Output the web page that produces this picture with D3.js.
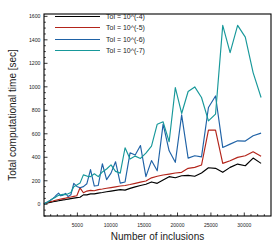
<!DOCTYPE html>
<html>
<head>
<meta charset="utf-8">
<script src="https://cdn.jsdelivr.net/npm/d3@7"></script>
<style>
  html, body { margin: 0; padding: 0; background: #fff; }
  svg { display: block; font-family: "Liberation Sans", Arial, sans-serif; }
</style>
</head>
<body>
<div id="chart"></div>
<script>
// number of inclusions (x)
const inclusions = [11, 45, 100, 178, 279, 401, 546, 714, 903, 1115,
  1349, 1606, 1884, 2185, 2509, 2854, 3222, 3613, 4025, 4460,
  4917, 5397, 5898, 6422, 6969, 7537, 8128, 8742, 9377, 10035,
  10715, 11418, 12142, 12889, 13659, 14450, 15264, 16101, 16959, 17840,
  18743, 19669, 20617, 21586, 22579, 23593, 24630, 25690, 26771, 27875,
  29001, 30150, 31321, 32514];

// total computational time [sec] per tolerance
const tol4 = [2, 3, 5, 6, 8, 10, 12, 14, 16, 18,
  21, 24, 27, 30, 33, 37, 40, 44, 48, 52,
  56, 60, 80, 80, 88, 88, 95, 100, 106, 112,
  118, 124, 120, 135, 148, 160, 170, 190, 178, 206,
  235, 226, 243, 246, 238, 266, 311, 306, 272, 314,
  342, 328, 393, 348];
const tol5 = [2, 4, 6, 8, 10, 13, 16, 19, 22, 25,
  28, 32, 36, 40, 44, 48, 52, 57, 62, 67,
  72, 140, 98, 112, 118, 115, 125, 130, 136, 142,
  148, 155, 160, 168, 178, 188, 198, 225, 238, 249,
  257, 266, 272, 306, 314, 334, 631, 631, 348, 370,
  399, 413, 447, 408];
const tol6 = [2, 4, 6, 9, 12, 16, 20, 25, 32, 40,
  50, 62, 80, 95, 72, 78, 92, 66, 80, 178,
  152, 140, 150, 175, 295, 155, 160, 345, 210, 265,
  362, 180, 190, 438, 420, 500, 235, 372, 285, 682,
  455, 357, 761, 393, 413, 404, 824, 922, 484, 512,
  540, 538, 583, 606];
const tol7 = [2, 4, 6, 9, 12, 16, 20, 26, 32, 40,
  48, 56, 66, 76, 80, 84, 82, 90, 100, 150,
  165, 180, 250, 240, 235, 260, 235, 275, 300, 335,
  280, 265, 481, 385, 410, 390, 435, 495, 682, 702,
  532, 993, 773, 960, 999, 909, 710, 767, 1523, 1291,
  1523, 1423, 1121, 909];

const seriesNames = ['Tol = 10^(-4)', 'Tol = 10^(-5)', 'Tol = 10^(-6)', 'Tol = 10^(-7)'];
const seriesValues = [tol4, tol5, tol6, tol7];
const colors = ['#000000', '#b3241a', '#1f62a6', '#17989a'];

const xTicks = [5000, 10000, 15000, 20000, 25000, 30000];
const yTicks = [0, 200, 400, 600, 800, 1000, 1200, 1400, 1600];

const w = 278, h = 250;
const margin = { top: 14, right: 7, bottom: 34, left: 44 };

const svg = d3.select('#chart').append('svg')
  .attr('width', w)
  .attr('height', h);

const x = d3.scaleLinear()
  .domain([0, 34000])
  .range([margin.left, w - margin.right]);

const y = d3.scaleLinear()
  .domain([-100, 1620])
  .range([h - margin.bottom, margin.top]);

// minor ticks (inward)
const xMinor = d3.range(1000, 34000, 1000).filter(v => v % 5000 !== 0);
const yMinor = d3.range(-100, 1620, 50).filter(v => v % 200 !== 0);

const axes = svg.append('g').attr('stroke', '#000').attr('stroke-width', 0.8);
axes.selectAll('line.xmaj').data(xTicks).enter().append('line')
  .attr('x1', d => x(d)).attr('x2', d => x(d))
  .attr('y1', h - margin.bottom).attr('y2', h - margin.bottom - 3.5);
axes.selectAll('line.xmin').data(xMinor).enter().append('line')
  .attr('x1', d => x(d)).attr('x2', d => x(d))
  .attr('y1', h - margin.bottom).attr('y2', h - margin.bottom - 1.8);
axes.selectAll('line.ymaj').data(yTicks).enter().append('line')
  .attr('x1', margin.left).attr('x2', margin.left + 3.5)
  .attr('y1', d => y(d)).attr('y2', d => y(d));
axes.selectAll('line.ymin').data(yMinor).enter().append('line')
  .attr('x1', margin.left).attr('x2', margin.left + 1.8)
  .attr('y1', d => y(d)).attr('y2', d => y(d));

// tick labels
svg.append('g').selectAll('text').data(xTicks).enter().append('text')
  .attr('x', d => x(d))
  .attr('y', h - margin.bottom + 11)
  .attr('text-anchor', 'middle')
  .attr('font-size', 5)
  .attr('fill', '#222')
  .text(d => d);

svg.append('g').selectAll('text').data(yTicks).enter().append('text')
  .attr('x', margin.left - 3.5)
  .attr('y', d => y(d))
  .attr('dy', '0.35em')
  .attr('text-anchor', 'end')
  .attr('font-size', 5.2)
  .attr('fill', '#222')
  .text(d => d);

// lines
const line = d3.line()
  .x((d, i) => x(inclusions[i]))
  .y(d => y(d));

svg.append('g').selectAll('path').data(seriesValues).enter().append('path')
  .attr('fill', 'none')
  .attr('stroke', (d, i) => colors[i])
  .attr('stroke-width', 1.15)
  .attr('stroke-linejoin', 'round')
  .attr('d', line);

// frame
svg.append('rect')
  .attr('x', margin.left)
  .attr('y', margin.top)
  .attr('width', w - margin.left - margin.right)
  .attr('height', h - margin.top - margin.bottom)
  .attr('fill', 'none')
  .attr('stroke', '#000')
  .attr('stroke-width', 1.1);

// legend (rows snapped to half pixels so the lines stay crisp)
const legend = svg.append('g');
const rowY = i => Math.round(16 + i * 11.4) + 0.5;
legend.selectAll('line').data(seriesNames).enter().append('line')
  .attr('x1', 55).attr('x2', 100)
  .attr('y1', (d, i) => rowY(i)).attr('y2', (d, i) => rowY(i))
  .attr('stroke', (d, i) => colors[i])
  .attr('stroke-width', 1.2);
legend.selectAll('text').data(seriesNames).enter().append('text')
  .attr('x', 106)
  .attr('y', (d, i) => rowY(i))
  .attr('dy', '0.35em')
  .attr('font-size', 7)
  .attr('fill', '#222')
  .text(d => d);

// axis titles
svg.append('text')
  .attr('x', (margin.left + w - margin.right) / 2)
  .attr('y', 239.5)
  .attr('text-anchor', 'middle')
  .attr('font-size', 10)
  .attr('fill', '#222')
  .text('Number of inclusions');

svg.append('text')
  .attr('transform', `translate(16,${(margin.top + h - margin.bottom) / 2}) rotate(-90)`)
  .attr('text-anchor', 'middle')
  .attr('font-size', 10)
  .attr('fill', '#222')
  .text('Total computational time [sec]');
</script>
</body>
</html>
